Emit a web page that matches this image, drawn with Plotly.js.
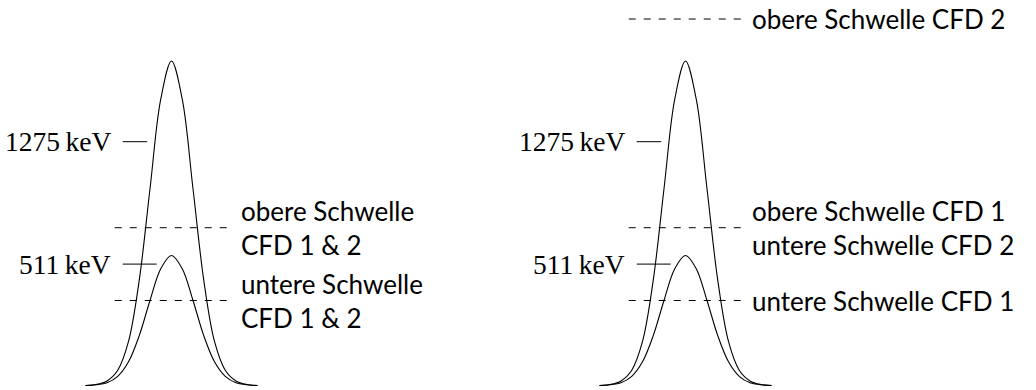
<!DOCTYPE html>
<html>
<head>
<meta charset="utf-8">
<script src="https://cdn.plot.ly/plotly-3.0.1.min.js"></script>
<style>html,body{margin:0;padding:0;background:#fff;}#chart{width:1036px;height:390px;}</style>
</head>
<body>
<div id="chart"></div>
<script>
// ---- data ----
const t = [-4, -3.5, -3, -2.5, -2, -1.5, -1, -0.5, 0, 0.5, 1, 1.5, 2, 2.5, 3, 3.5, 4];
const pulse1275 = [0, 4, 18, 60, 173, 414, 773, 1125, 1275, 1125, 773, 414, 173, 60, 18, 4, 0];
const pulse511  = [0, 3, 11, 36, 93, 196, 334, 459, 511, 459, 334, 196, 93, 36, 11, 3, 0];

const energyLevels = [958, 477];
const energyLabels = ['1275\u2009keV', '511\u2009keV'];
const energyTickStart = [-2.27, -2.27];
const energyTickEnd = [-1.13, -0.69];

const leftThresholds = [620, 334];
const leftThresholdLabels = ['obere Schwelle<br>CFD 1 & 2', 'untere Schwelle<br>CFD 1 & 2'];

const rightThresholds = [1440, 620, 334];
const rightThresholdLabels = ['obere Schwelle CFD 2', 'obere Schwelle CFD 1<br>untere Schwelle CFD 2', 'untere Schwelle CFD 1'];

// ---- layout geometry ----
const W = 1036, H = 390;
const PXU = 21.5;           // pixels per time unit
const leftCenter = 171.5, rightCenter = 685.5;
const baseline = 385.5, pxPerAmp = 0.2545;
const dashHalf = 2.64;
const labelXLeft = 3.12, labelXRight = 2.98;
const keVX = -2.72;

const serif = 'Liberation Serif, DejaVu Serif, serif';
const sans = 'Lato, Open Sans, sans-serif';

function curve(y, xa) {
  return {x: t, y: y, xaxis: xa, yaxis: 'y', mode: 'lines', type: 'scatter',
          line: {color: '#000', width: 1.1, shape: 'spline', smoothing: 1}, hoverinfo: 'skip'};
}
const data = [
  curve(pulse1275, 'x'), curve(pulse511, 'x'),
  curve(pulse1275, 'x2'), curve(pulse511, 'x2')
];

const shapes = [];
const annotations = [];
function dashLine(xref, yv) {
  shapes.push({type: 'line', xref: xref, yref: 'y', x0: -dashHalf, x1: dashHalf, y0: yv, y1: yv,
               line: {color: '#000', width: 1, dash: '7px,8px'}});
}
['x', 'x2'].forEach(xr => {
  energyLevels.forEach((lv, i) => {
    shapes.push({type: 'line', xref: xr, yref: 'y', x0: energyTickStart[i], x1: energyTickEnd[i], y0: lv, y1: lv,
                 line: {color: '#000', width: 1}});
    annotations.push({xref: xr, yref: 'y', x: keVX, y: lv, text: energyLabels[i], showarrow: false,
                      xanchor: 'right', yanchor: 'middle', font: {family: serif, size: 27.5, color: '#000'}});
  });
});
leftThresholds.forEach((v, i) => {
  dashLine('x', v);
  annotations.push({xref: 'x', yref: 'y', x: labelXLeft, y: v, text: leftThresholdLabels[i], showarrow: false,
                    xanchor: 'left', yanchor: 'middle', align: 'left', font: {family: sans, size: 26, color: '#000'}});
});
rightThresholds.forEach((v, i) => {
  dashLine('x2', v);
  annotations.push({xref: 'x2', yref: 'y', x: labelXRight, y: v, text: rightThresholdLabels[i], showarrow: false,
                    xanchor: 'left', yanchor: 'middle', align: 'left', font: {family: sans, size: 26, color: '#000'}});
});

const hidden = {visible: false, showgrid: false, zeroline: false, fixedrange: true};
const layout = {
  width: W, height: H,
  margin: {l: 0, r: 0, t: 0, b: 0, pad: 0},
  paper_bgcolor: '#fff', plot_bgcolor: '#fff',
  showlegend: false,
  xaxis: Object.assign({domain: [0, 1], range: [-leftCenter / PXU, (W - leftCenter) / PXU]}, hidden),
  xaxis2: Object.assign({domain: [0, 1], overlaying: 'x', anchor: 'y', range: [-rightCenter / PXU, (W - rightCenter) / PXU]}, hidden),
  yaxis: Object.assign({domain: [0, 1], range: [-(H - baseline) / pxPerAmp, baseline / pxPerAmp]}, hidden),
  shapes: shapes,
  annotations: annotations
};
Plotly.newPlot('chart', data, layout, {staticPlot: true, displayModeBar: false});
</script>
</body>
</html>
